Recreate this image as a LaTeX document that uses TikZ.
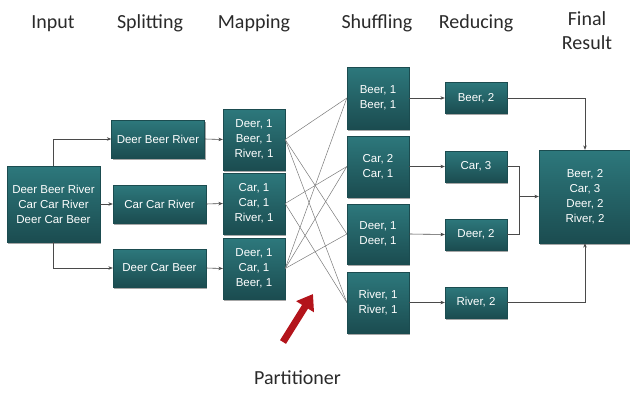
\documentclass[tikz,border=0pt]{standalone}
\usepackage{fontspec}
\setmainfont{Liberation Sans}
\newfontfamily\hdrfont{Carlito}
\usetikzlibrary{arrows.meta,shadows}
\definecolor{boxtop}{HTML}{2D787C}
\definecolor{boxbot}{HTML}{1B4C50}
\definecolor{lnc}{HTML}{4A4A4A}
\definecolor{shc}{HTML}{7A7A7A}
\definecolor{redarr}{HTML}{B3141B}
\definecolor{hdrc}{HTML}{2A2A2A}
\begin{document}
\begin{tikzpicture}[x=1pt,y=-1pt,
  box/.style={rectangle, top color=boxtop, bottom color=boxbot, draw=boxbot,
    line width=0.3pt,
    drop shadow={shadow xshift=1.2pt, shadow yshift=-1.5pt, opacity=0.35, fill=black},
    text=white, font=\fontsize{11.5}{15}\selectfont, align=center, inner sep=0pt},
  hdr/.style={font=\hdrfont\fontsize{20}{24}\selectfont, text=hdrc, anchor=base, align=center},
  arr/.style={draw=lnc, line width=0.6pt, -{Stealth[length=4.5pt,width=3.5pt]}},
  ln/.style={draw=lnc, line width=0.6pt},
  mix/.style={draw=shc, line width=0.5pt}]
\useasboundingbox (0,0) rectangle (630,394);

% headers
\node[hdr] (hin) at (53,28) {Input};
\node[hdr] (hsp) at (150,28) {Splitting};
\node[hdr] (hmp) at (254,28) {Mapping};
\node[hdr] (hsh) at (377,28) {Shuffling};
\node[hdr] (hrd) at (476,28) {Reducing};
\node[hdr] (hfi) at (587,49) {Final\\Result};

% input
\node[box, minimum width=93pt, minimum height=76pt] (in) at (53.5,204) {Deer Beer River\\Car Car River\\Deer Car Beer};

% splitting
\node[box, minimum width=93pt, minimum height=38pt] (sp1) at (158,139) {Deer Beer River};
\node[box, minimum width=93pt, minimum height=38pt] (sp2) at (159.5,204) {Car Car River};
\node[box, minimum width=93pt, minimum height=38pt] (sp3) at (159.5,268) {Deer Car Beer};

% mapping
\node[box, minimum width=62pt, minimum height=61pt] (mp1) at (254,139.5) {Deer, 1\\Beer, 1\\River, 1};
\node[box, minimum width=62pt, minimum height=61pt] (mp2) at (254,203.5) {Car, 1\\Car, 1\\River, 1};
\node[box, minimum width=62pt, minimum height=61pt] (mp3) at (254,268.5) {Deer, 1\\Car, 1\\Beer, 1};

% shuffling
\node[box, minimum width=62pt, minimum height=62pt] (sh1) at (378,98) {Beer, 1\\Beer, 1};
\node[box, minimum width=62pt, minimum height=61pt] (sh2) at (378,166.5) {Car, 2\\Car, 1};
\node[box, minimum width=62pt, minimum height=60pt] (sh3) at (378,234) {Deer, 1\\Deer, 1};
\node[box, minimum width=62pt, minimum height=61pt] (sh4) at (378,302.5) {River, 1\\River, 1};

% reducing
\node[box, minimum width=62pt, minimum height=31pt] (rd1) at (476,98) {Beer, 2};
\node[box, minimum width=62pt, minimum height=31pt] (rd2) at (476,166.5) {Car, 3};
\node[box, minimum width=62pt, minimum height=31pt] (rd3) at (476,234.5) {Deer, 2};
\node[box, minimum width=62pt, minimum height=31pt] (rd4) at (476,302.5) {River, 2};

% final
\node[box, minimum width=92pt, minimum height=93pt] (fin) at (585,196.5) {Beer, 2\\Car, 3\\Deer, 2\\River, 2};

% input -> splitting
\draw[arr] (in.north) |- (sp1.west);
\draw[arr] (in.east) -- (sp2.west);
\draw[arr] (in.south) |- (sp3.west);

% splitting -> mapping
\draw[arr] (sp1.east) -- (mp1.west);
\draw[arr] (sp2.east) -- (mp2.west);
\draw[arr] (sp3.east) -- (mp3.west);

% mapping -> shuffling
\draw[mix] (mp1.east) -- (sh1.west);
\draw[mix] (mp1.east) -- (sh3.west);
\draw[mix] (mp1.east) -- (sh4.west);
\draw[mix] (mp2.east) -- (sh2.west);
\draw[mix] (mp2.east) -- (sh4.west);
\draw[mix] (mp3.east) -- (sh1.west);
\draw[mix] (mp3.east) -- (sh2.west);
\draw[mix] (mp3.east) -- (sh3.west);

% shuffling -> reducing
\draw[arr] (sh1.east) -- (rd1.west);
\draw[arr] (sh2.east) -- (rd2.west);
\draw[arr] (sh3.east) -- (rd3.west);
\draw[arr] (sh4.east) -- (rd4.west);

% reducing -> final
\coordinate (jn) at (519,196.5);
\draw[arr] (rd1.east) -| (fin.north);
\draw[arr] (rd4.east) -| (fin.south);
\draw[ln] (rd2.east) -| (jn);
\draw[ln] (rd3.east) -| (jn);
\draw[arr] (jn) -- (fin.west);

% partitioner arrow
\coordinate (pa) at (283,342);
\coordinate (pb) at (313,294);
\draw[redarr, line width=7pt, -{Triangle[length=15pt,width=20pt]}] (pa) -- (pb);
\node[hdr] (part) at (297.5,384) {Partitioner};
\end{tikzpicture}
\end{document}
